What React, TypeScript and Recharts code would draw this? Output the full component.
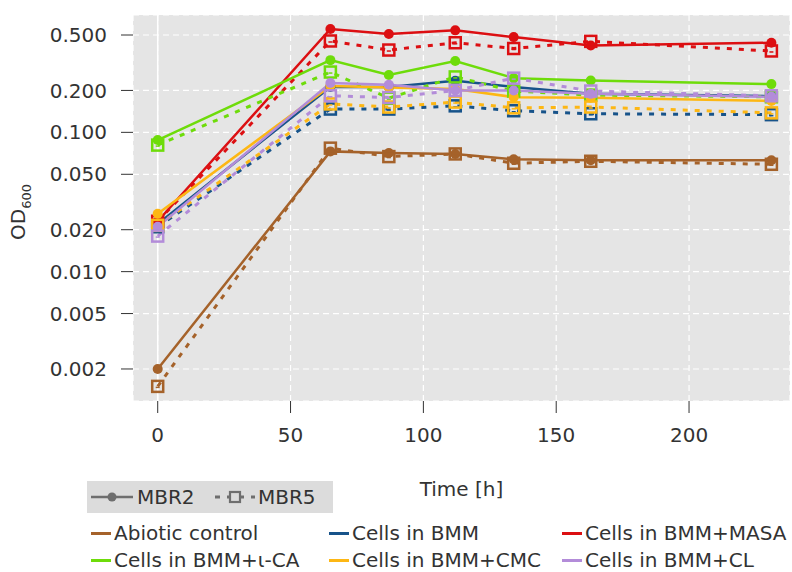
import React from 'react';
import {
  CartesianGrid,
  Label,
  Line,
  LineChart,
  ReferenceLine,
  XAxis,
  YAxis
} from 'recharts';

const TIMES = [0, 65, 87, 112, 134, 163, 231];

const ABIOTIC_MBR2 = [0.002, 0.073, 0.071, 0.07, 0.064, 0.063, 0.063];
const ABIOTIC_MBR5 = [0.0015, 0.077, 0.067, 0.07, 0.06, 0.062, 0.059];
const BMM_MBR2 = [0.022, 0.212, 0.212, 0.235, 0.212, 0.189, 0.182];
const BMM_MBR5 = [0.021, 0.147, 0.147, 0.155, 0.143, 0.136, 0.134];
const MASA_MBR2 = [0.023, 0.552, 0.508, 0.54, 0.483, 0.42, 0.44];
const MASA_MBR5 = [0.023, 0.453, 0.39, 0.44, 0.4, 0.45, 0.384];
const ICA_MBR2 = [0.088, 0.33, 0.258, 0.325, 0.245, 0.236, 0.222];
const ICA_MBR5 = [0.081, 0.271, 0.176, 0.25, 0.198, 0.185, 0.18];
const CMC_MBR2 = [0.026, 0.215, 0.21, 0.205, 0.179, 0.177, 0.168];
const CMC_MBR5 = [0.0215, 0.16, 0.152, 0.165, 0.15, 0.152, 0.138];
const CL_MBR2 = [0.021, 0.226, 0.22, 0.2, 0.2, 0.189, 0.18];
const CL_MBR5 = [0.018, 0.183, 0.178, 0.2, 0.245, 0.198, 0.183];

const Y_TICKS = [0.002, 0.005, 0.01, 0.02, 0.05, 0.1, 0.2, 0.5];
const X_TICKS = [0, 50, 100, 150, 200];

const GROUPS = [
  { key: 'abiotic', label: 'Abiotic control', color: '#A5622A', mbr2: ABIOTIC_MBR2, mbr5: ABIOTIC_MBR5 },
  { key: 'bmm', label: 'Cells in BMM', color: '#17538A', mbr2: BMM_MBR2, mbr5: BMM_MBR5 },
  { key: 'masa', label: 'Cells in BMM+MASA', color: '#DC0F12', mbr2: MASA_MBR2, mbr5: MASA_MBR5 },
  { key: 'ica', label: 'Cells in BMM+\u03B9-CA', color: '#6EDC0A', mbr2: ICA_MBR2, mbr5: ICA_MBR5 },
  { key: 'cmc', label: 'Cells in BMM+CMC', color: '#FDB714', mbr2: CMC_MBR2, mbr5: CMC_MBR5 },
  { key: 'cl', label: 'Cells in BMM+CL', color: '#B38CD9', mbr2: CL_MBR2, mbr5: CL_MBR5 }
];

const FONT = '"DejaVu Sans", sans-serif';
const INK = '#333333';
const PLOT_BG = '#E5E5E5';

const data = TIMES.map((t, i) => {
  const row: Record<string, number> = { t };
  GROUPS.forEach((g) => {
    row[`${g.key}2`] = g.mbr2[i];
    row[`${g.key}5`] = g.mbr5[i];
  });
  return row;
});

const squareDot = (color: string) => (props: any) => {
  const { cx, cy, index } = props;
  if (cx == null || cy == null) return <g key={`s${index}`} />;
  return (
    <g key={`s${index}`}>
      <rect x={cx - 5.5} y={cy - 5.5} width={11} height={11} fill="none" stroke={color} strokeWidth={2.5} />
      <line x1={cx - 2} y1={cy + 1} x2={cx + 2} y2={cy + 1} stroke={color} strokeWidth={1.5} />
    </g>
  );
};

const YLabel = () => (
  <text transform="translate(25, 212) rotate(-90)" textAnchor="middle" fill={INK} fontFamily={FONT} fontSize={20}>
    OD<tspan fontSize={13} dy={6}>600</tspan>
  </text>
);

export default function App() {
  return (
    <div style={{ position: 'absolute', left: 0, top: 0, width: 792, height: 572, background: '#fff', fontFamily: FONT }}>
      <LineChart width={792} height={572} data={data} margin={{ top: 15, right: 2, left: 0, bottom: 71 }}>
        <CartesianGrid stroke="#ffffff" strokeDasharray="6 4" strokeWidth={1.2} fill={PLOT_BG} />
        <XAxis
          dataKey="t"
          type="number"
          domain={[-9.3, 238]}
          ticks={X_TICKS}
          allowDataOverflow
          axisLine={false}
          tickSize={12}
          tickMargin={15}
          height={100}
          tickLine={{ stroke: INK }}
          tick={{ fill: INK, fontSize: 20, fontFamily: FONT }}
        >
          <Label value="Time [h]" position="insideBottom" offset={5} fill={INK} fontSize={20} fontFamily={FONT} />
        </XAxis>
        <YAxis
          scale="log"
          type="number"
          domain={[0.001178, 0.696]}
          ticks={Y_TICKS}
          allowDataOverflow
          axisLine={false}
          width={133}
          tickSize={12}
          tickMargin={14}
          tickLine={{ stroke: INK }}
          tick={{ fill: INK, fontSize: 20, fontFamily: FONT }}
          tickFormatter={(v: number) => v.toFixed(3)}
          label={<YLabel />}
        />
        <ReferenceLine x={0} stroke="#ffffff" strokeWidth={1.5} />
        {GROUPS.map((g) => [
          <Line
            key={`${g.key}2`}
            dataKey={`${g.key}2`}
            stroke={g.color}
            strokeWidth={2.5}
            dot={{ r: 5, fill: g.color, stroke: g.color, strokeWidth: 0 }}
            isAnimationActive={false}
          />,
          <Line
            key={`${g.key}5`}
            dataKey={`${g.key}5`}
            stroke={g.color}
            strokeWidth={3}
            strokeDasharray="5 7"
            dot={squareDot(g.color)}
            isAnimationActive={false}
          />
        ])}
      </LineChart>

      <div style={{ position: 'absolute', left: 87, top: 481, width: 246, height: 32, background: '#DCDCDC' }}>
        <svg width={246} height={32} style={{ position: 'absolute', left: 0, top: 0 }}>
          <line x1={4} y1={16} x2={46} y2={16} stroke="#6E6E6E" strokeWidth={2.5} />
          <circle cx={25} cy={16} r={4.5} fill="#6E6E6E" />
          <text x={50} y={23} fill={INK} fontSize={20} fontFamily={FONT}>MBR2</text>
          <line x1={128} y1={16} x2={168} y2={16} stroke="#6E6E6E" strokeWidth={3} strokeDasharray="5 7" />
          <rect x={143} y={11} width={10} height={10} fill="#DCDCDC" stroke="#6E6E6E" strokeWidth={2.2} />
          <text x={171} y={23} fill={INK} fontSize={20} fontFamily={FONT}>MBR5</text>
        </svg>
      </div>

      {GROUPS.map((g, i) => {
        const col = i % 3;
        const row = Math.floor(i / 3);
        const lefts = [91, 329, 562];
        return (
          <div
            key={g.key}
            style={{
              position: 'absolute',
              left: lefts[col],
              top: 524 + row * 27,
              height: 18,
              lineHeight: '18px',
              display: 'flex',
              alignItems: 'center',
              whiteSpace: 'nowrap',
              fontSize: 20,
              color: INK
            }}
          >
            <span style={{ display: 'inline-block', width: 20, height: 3, background: g.color, marginRight: 3 }} />
            {g.label}
          </div>
        );
      })}
    </div>
  );
}
